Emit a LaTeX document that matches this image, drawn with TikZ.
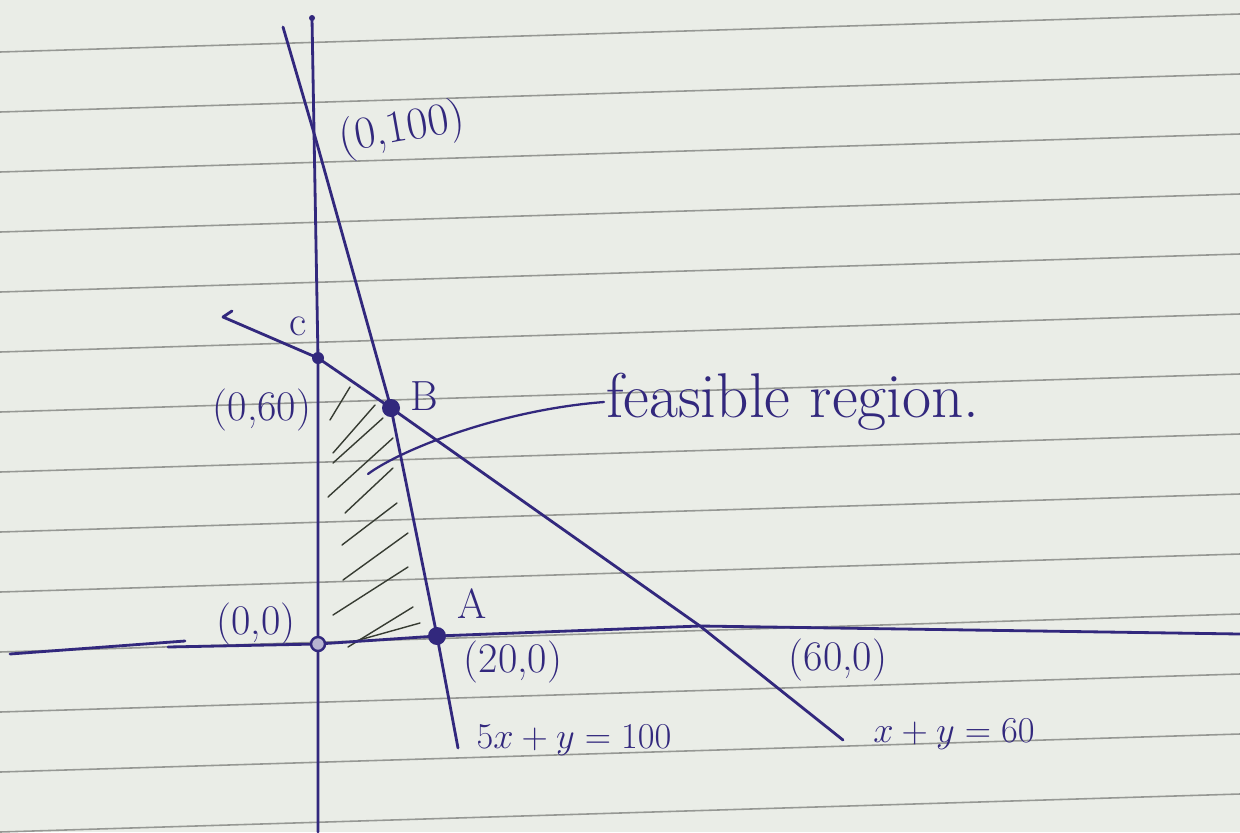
\documentclass[tikz,border=0pt]{standalone}
\usepackage{xcolor}
\usetikzlibrary{positioning, calc}
\definecolor{paper}{RGB}{234,237,231}
\definecolor{ruleclr}{RGB}{150,152,148}
\definecolor{ink}{RGB}{50,40,125}
\definecolor{hatchclr}{RGB}{55,60,50}

\begin{document}
\begin{tikzpicture}[
    x=0.02cm, y=-0.02cm,
    font=\fontsize{24}{28}\selectfont,
    % --- node styles ---
    lbl/.style    ={text=ink, inner sep=1pt},
    eqn/.style    ={lbl, font=\fontsize{21}{25}\selectfont},
    dotpt/.style  ={circle, fill=ink, inner sep=0pt, minimum size=0.36cm},
    cpt/.style    ={circle, fill=ink, inner sep=0pt, minimum size=0.24cm},
    opt/.style    ={circle, draw=ink, line width=1.4pt, fill=ink!35, inner sep=0pt, minimum size=0.28cm},
    % --- wire styles ---
    pen/.style    ={draw=ink, line width=1.6pt, line cap=round, line join=round},
    hatch/.style  ={draw=hatchclr, line width=0.8pt, line cap=round},
    ruled/.style  ={draw=ruleclr, line width=0.9pt},
]

% =============== paper ===============
\fill[paper] (0,0) rectangle (1240,832);
\useasboundingbox (0,0) rectangle (1240,832);
\foreach \k in {0,...,13}
    \draw[ruled] (0,52+60*\k) -- (1240,14+60*\k);

% =============== key points ===============
\coordinate (O)   at (318,644);
\coordinate (Y100) at (316,140);
\node[cpt]    (C) at (318,358) {};
\node[dotpt]  (B) at (391,408) {};
\node[dotpt]  (A) at (437,636) {};
\coordinate (X60) at (700,626);

% free ends
\coordinate (ytop) at (312,18);
\coordinate (ybot) at (318,832);
\coordinate (xl1)  at (10,654);
\coordinate (xl2)  at (185,641);
\coordinate (xl3)  at (168,647);
\coordinate (xr)   at (1240,634);
\coordinate (ft)   at (283,27);
\coordinate (fb)   at (458,748);
\coordinate (gh)   at (232,311);
\coordinate (gs)   at (223,317);
\coordinate (ge)   at (843,740);

% =============== hatching ===============
\draw[hatch] (330,420) -- (350,387);
\draw[hatch] (333,453) -- (375,405);
\draw[hatch] (333,463) -- (383,418);
\draw[hatch] (328,497) -- (393,438);
\draw[hatch] (345,513) -- (393,468);
\draw[hatch] (342,545) -- (397,503);
\draw[hatch] (343,580) -- (408,533);
\draw[hatch] (333,615) -- (408,567);
\draw[hatch] (348,647) -- (413,607);
\draw[hatch] (352,642) -- (420,623);

% =============== axes ===============
\draw[pen] (ytop) -- (C.center) -- (O) -- (ybot);
\draw[pen] (xl1) -- (xl2);
\draw[pen] (xl3) -- (O) -- (A.center) -- (X60) -- (xr);
\fill[ink] (ytop) circle (3);

% =============== constraint lines ===============
\draw[pen] (ft) -- (Y100) -- (B.center) -- (A.center) -- (fb);
\draw[pen] (gh) -- (gs) -- (C.center) -- (B.center) -- (X60) -- (ge);

\node[opt] (Odot) at (O) {};

% =============== labels ===============
\node[lbl, rotate=10, font=\fontsize{26}{30}\selectfont] (l100) at (402,130) {(0,100)};
\node[lbl] (lC)  at (298,326) {c};
\node[lbl] (l60) at (262,410) {(0,60)};
\node[lbl] (lB)  at (424,396) {B};
\node[lbl] (l00) at (256,624) {(0,0)};
\node[lbl] (lA)  at (472,604) {A};
\node[lbl] (l20) at (513,662) {(20,0)};
\node[lbl] (l6000) at (838,660) {(60,0)};
\node[eqn] (eqA) at (574,740) {$5x+y=100$};
\node[eqn] (eqB) at (954,734) {$x+y=60$};

\node[lbl, anchor=west, font=\fontsize{36}{40}\selectfont] (feas) at (604,402) {feasible region.};
\draw[pen, line width=1.3pt] (368,474) .. controls (400,450) and (500,410) .. (feas.west);

\end{tikzpicture}
\end{document}
